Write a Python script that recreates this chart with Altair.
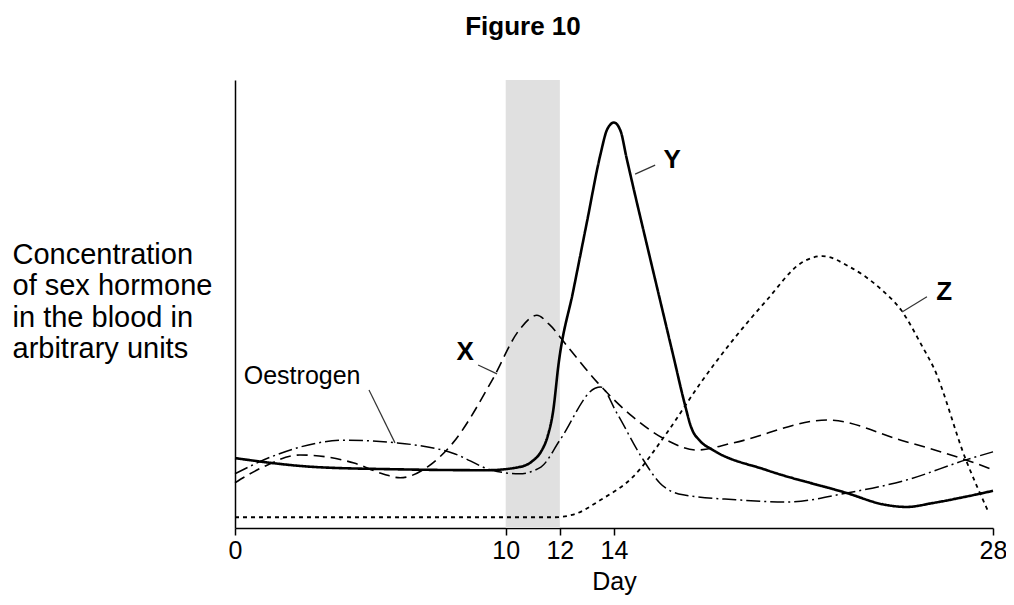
import altair as alt
import pandas as pd

# ---- data ----
y_days = [0, 3, 6, 9.3, 10.5, 11.0, 11.3, 11.55, 11.75, 11.95, 12.5, 13.0, 13.5, 13.75, 14.0, 14.25, 14.45, 14.7, 15.2, 15.7, 16.2, 16.6, 16.85, 17.2, 17.6, 19.65, 22.6, 24.0, 24.8, 25.8, 27.0, 28.0]
y_vals = [15.6, 13.6, 13.1, 12.9, 13.6, 15, 17, 20.5, 26, 36.5, 53.1, 68.3, 83.4, 89, 90.5, 88.5, 83, 76.4, 63.6, 50.9, 38.2, 28, 22.5, 19.3, 17.6, 12.9, 7.8, 5.2, 4.7, 5.6, 7, 8.3]

x_days = [0, 1, 2.4, 4.4, 5.5, 6.1, 7.1, 8.05, 9.5, 10.5, 11.15, 11.6, 12.3, 13.4, 14.7, 15.95, 17.05, 18.4, 21.9, 24.6, 27.0, 28.0]
x_vals = [10.1, 13.5, 16.3, 14.5, 12, 11.2, 13.6, 19, 33, 44.2, 47.5, 45.5, 40.4, 32.4, 24.8, 19.6, 17.4, 19, 24.1, 19.6, 15.2, 13]

z_days = [0, 6, 11.8, 12.5, 13.5, 14.7, 15.95, 17.2, 18.4, 19.65, 20.9, 21.7, 22.7, 23.9, 24.6, 25.4, 25.8, 27.0, 27.8]
z_vals = [2.4, 2.4, 2.4, 3, 6.25, 11.4, 21.2, 32.4, 42, 50.9, 59.1, 60.7, 58.3, 53.1, 48.7, 40.4, 35.9, 15.2, 4]

oe_days = [0, 1.3, 4.1, 6.0, 8.05, 9.5, 10.5, 11.3, 12.0, 13.3, 13.5, 14.1, 15.0, 15.7, 16.55, 18.5, 20.4, 22.6, 24.8, 27.0, 28]
oe_vals = [12.1, 15.8, 19.6, 19, 16.7, 12.9, 12.1, 13.6, 19.6, 31.2, 31.5, 25.7, 16, 10, 7.4, 6.3, 5.8, 7.8, 10.7, 15.2, 17]

tick_days = [0, 10, 12, 14, 28]
shade_start, shade_end = [10], [12]

label_text = ["Oestrogen", "X", "Y", "Z"]
label_day = [2.48, 8.5, 16.15, 26.2]
label_val = [33.9, 39.3, 82.1, 52.7]
label_bold = ["normal", "bold", "bold", "bold"]

leader_d1 = [4.95, 8.98, 15.52, 25.56]
leader_v1 = [30.8, 36.4, 81.0, 51.6]
leader_d2 = [5.91, 9.68, 14.78, 24.64]
leader_v2 = [19.0, 34.4, 79.0, 48.2]

y_title = ["Concentration", "of sex hormone", "in the blood in", "arbitrary units"]

FONT = "Liberation Sans"

xs = alt.Scale(domain=[0, 28], nice=False, zero=False)
ys = alt.Scale(domain=[0, 100], nice=False)

x_axis = alt.Axis(values=tick_days, title="Day", titleFontSize=25, titleFontWeight="normal",
                  titleFont=FONT, titleColor="black", titlePadding=6,
                  labelFontSize=25, labelFont=FONT, labelColor="black", labelFlush=False,
                  labelPadding=3, tickSize=7, tickColor="black", tickWidth=1.5,
                  domainColor="black", domainWidth=1.5, grid=False, format="d")
y_axis = alt.Axis(title=y_title, titleAngle=0, titleAlign="left", titleBaseline="alphabetic",
                  titleX=-223, titleY=183, titleLineHeight=31.5, titleFontSize=29,
                  titleFontWeight="normal", titleFont=FONT, titleColor="black",
                  labels=False, ticks=False, grid=False, domainColor="black", domainWidth=1.5)

shade = alt.Chart(pd.DataFrame({"a": shade_start, "b": shade_end})).mark_rect(color="#e0e0e0").encode(
    x=alt.X("a:Q", scale=xs, axis=x_axis),
    x2="b:Q",
    y=alt.value(0),
    y2=alt.value(448),
)

def line(days, vals, dash, width):
    df = pd.DataFrame({"day": days, "v": vals})
    return alt.Chart(df).mark_line(color="black", strokeDash=dash, strokeWidth=width,
                                   interpolate="monotone").encode(
        x=alt.X("day:Q", scale=xs, axis=x_axis),
        y=alt.Y("v:Q", scale=ys, axis=y_axis),
    )

l_z = line(z_days, z_vals, [4, 4], 1.8)
l_oe = line(oe_days, oe_vals, [14, 4, 2, 4], 1.5)
l_x = line(x_days, x_vals, [11, 6], 1.6)
l_y = line(y_days, y_vals, [1, 0], 2.6)

leaders = alt.Chart(pd.DataFrame({"d1": leader_d1, "v1": leader_v1, "d2": leader_d2, "v2": leader_v2})).mark_rule(
    color="#333333", strokeWidth=1.2).encode(
    x=alt.X("d1:Q", scale=xs), y=alt.Y("v1:Q", scale=ys), x2="d2:Q", y2="v2:Q")

lab_df = pd.DataFrame({"t": label_text, "d": label_day, "v": label_val, "w": label_bold})
labels_norm = alt.Chart(lab_df[lab_df.w == "normal"]).mark_text(
    font=FONT, fontSize=25, color="black", align="center", baseline="middle").encode(
    x=alt.X("d:Q", scale=xs), y=alt.Y("v:Q", scale=ys), text="t:N")
labels_bold = alt.Chart(lab_df[lab_df.w == "bold"]).mark_text(
    font=FONT, fontSize=26, fontWeight="bold", color="black", align="center", baseline="middle").encode(
    x=alt.X("d:Q", scale=xs), y=alt.Y("v:Q", scale=ys), text="t:N")

chart = alt.layer(shade, l_z, l_oe, l_x, l_y, leaders, labels_norm, labels_bold).properties(
    width=758, height=448,
    autosize=alt.AutoSizeParams(type="none"),
    padding={"left": 227, "top": 72, "right": 13, "bottom": 68},
    title=alt.TitleParams("Figure 10", font=FONT, fontSize=26,
                          fontWeight="bold", color="black", anchor="middle", baseline="alphabetic",
                          offset=19, dx=-91),
).configure_view(stroke=None)

chart.save("out.html", embed_options={"renderer": "svg", "actions": False})
